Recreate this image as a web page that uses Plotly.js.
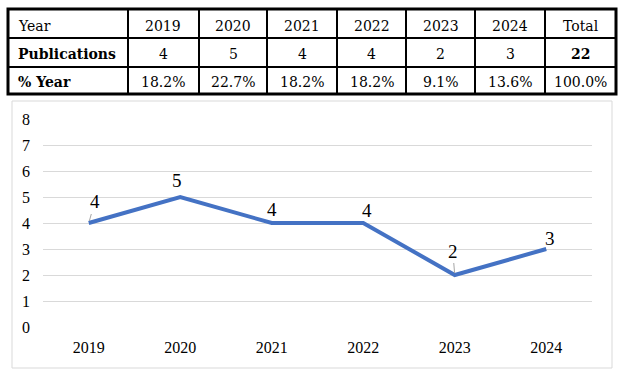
<!DOCTYPE html>
<html>
<head>
<meta charset="utf-8">
<script src="https://cdn.plot.ly/plotly-3.0.1.min.js"></script>
<style>html,body{margin:0;padding:0;background:#fff;}#chart{width:635px;height:371px;}</style>
</head>
<body>
<div id="chart"></div>
<script>
// ---- data ----
const years = ["2019", "2020", "2021", "2022", "2023", "2024"];
const publications = [4, 5, 4, 4, 2, 3];
const percentYear = ["18.2%", "22.7%", "18.2%", "18.2%", "9.1%", "13.6%"];
const headerFirst = "Year";
const totalLabel = "Total";
const totalPublications = 22;
const totalPercent = "100.0%";
const rowLabels = ["Publications", "% Year"];
const yTicks = [0, 1, 2, 3, 4, 5, 6, 7, 8];

// ---- styling (pixel geometry of table & data-label offsets) ----
const colEdges = [8, 128, 199, 267, 337, 406, 475, 545, 616];
const rowEdges = [9, 38, 67, 94];
const rowTextY = [26, 54, 82];
const labelDx = [6, -3, 0, 4, -2, 4];
const labelDy = [-21, -16, -13, -12, -24, -10];
const labelLeader = [true, false, false, false, true, false];

const W = 635, H = 371;
const px = v => v / W;
const py = v => 1 - v / H;
const serifTable = "DejaVu Serif";
const serifChart = "Liberation Serif";

// table rows built from data
const tableRows = [
  {cells: [headerFirst].concat(years, [totalLabel]), bold: [false, false, false, false, false, false, false, false]},
  {cells: [rowLabels[0]].concat(publications.map(String), [String(totalPublications)]), bold: [true, false, false, false, false, false, false, true]},
  {cells: [rowLabels[1]].concat(percentYear, [totalPercent]), bold: [true, false, false, false, false, false, false, false]}
];

const lineTrace = {
  type: "scatter",
  mode: "lines",
  x: years,
  y: publications,
  line: {color: "#4472C4", width: 4},
  hoverinfo: "skip"
};

// data labels (x as category index)
const annotations = years.map((y, i) => ({
  x: i, y: publications[i], xref: "x", yref: "y",
  text: String(publications[i]),
  showarrow: true,
  ax: labelDx[i], ay: labelDy[i],
  arrowhead: 0, arrowwidth: 1, standoff: 2,
  arrowcolor: labelLeader[i] ? "#a6a6a6" : "rgba(0,0,0,0)",
  font: {family: serifChart, size: 19, color: "#000"}
}));

// table text
tableRows.forEach((row, r) => {
  row.cells.forEach((txt, c) => {
    const first = c === 0;
    annotations.push({
      xref: "paper", yref: "paper",
      x: first ? px(colEdges[0] + 8) : px((colEdges[c] + colEdges[c + 1]) / 2),
      y: py(rowTextY[r]),
      xanchor: first ? "left" : "center", yanchor: "middle",
      text: row.bold[c] ? "<b>" + txt + "</b>" : txt,
      showarrow: false,
      font: {family: serifTable, size: 14, color: "#000"}
    });
  });
});

// table grid lines
const shapes = [
  {type: "rect", xref: "paper", yref: "paper", x0: px(12), x1: px(612), y0: py(368), y1: py(101),
   line: {color: "#d9d9d9", width: 1}, fillcolor: "rgba(0,0,0,0)", layer: "below"}
];
colEdges.slice(1, -1).forEach(x => shapes.push({
  type: "line", xref: "paper", yref: "paper", x0: px(x), x1: px(x),
  y0: py(rowEdges[0]), y1: py(rowEdges[rowEdges.length - 1]), line: {color: "#000", width: 2}
}));
rowEdges.slice(1, -1).forEach(y => shapes.push({
  type: "line", xref: "paper", yref: "paper", x0: px(colEdges[0]), x1: px(colEdges[colEdges.length - 1]),
  y0: py(y), y1: py(y), line: {color: "#000", width: 2}
}));
shapes.push({type: "rect", xref: "paper", yref: "paper",
  x0: px(colEdges[0]), x1: px(colEdges[colEdges.length - 1]),
  y0: py(rowEdges[rowEdges.length - 1]), y1: py(rowEdges[0]),
  line: {color: "#000", width: 3}, fillcolor: "rgba(0,0,0,0)"});

const layout = {
  width: W, height: H,
  margin: {l: 0, r: 0, t: 0, b: 0},
  paper_bgcolor: "#fff", plot_bgcolor: "#fff",
  showlegend: false,
  xaxis: {
    domain: [px(43), px(592)],
    type: "category",
    range: [-0.5, 5.5],
    showgrid: false, zeroline: false, showline: false,
    ticks: "", ticklabelstandoff: 9,
    tickfont: {family: serifChart, size: 16, color: "#000"},
    fixedrange: true
  },
  yaxis: {
    domain: [py(327), py(119)],
    range: [0, 8],
    tickvals: yTicks,
    showgrid: true, gridcolor: "#d9d9d9", gridwidth: 1,
    zeroline: false, showline: false,
    ticks: "", ticklabelstandoff: 12,
    tickfont: {family: serifChart, size: 16, color: "#000"},
    fixedrange: true
  },
  annotations: annotations,
  shapes: shapes
};

Plotly.newPlot("chart", [lineTrace], layout, {displayModeBar: false, staticPlot: true});
</script>
</body>
</html>
